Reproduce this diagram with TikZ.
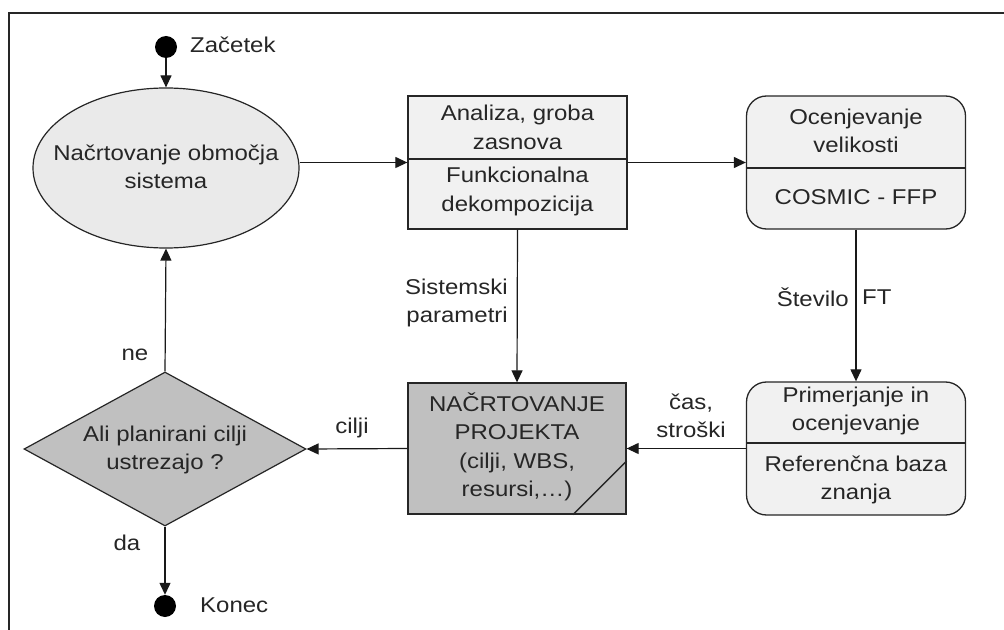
\documentclass[tikz,border=0pt]{standalone}
\usepackage{fontspec}
\setmainfont{Liberation Sans}[FakeStretch=1.12]
\usetikzlibrary{shapes.geometric,arrows.meta}
\definecolor{lightfill}{RGB}{241,241,241}
\definecolor{ellfill}{RGB}{234,234,234}
\definecolor{darkfill}{RGB}{192,192,192}
\begin{document}
\begin{tikzpicture}[x=1bp,y=-1bp,
  font=\fontsize{21.5}{28.5}\selectfont,
  box/.style={draw=black!85, line width=1.3bp, fill=lightfill, minimum width=219bp, minimum height=133bp, inner sep=0pt},
  rbox/.style={box, rounded corners=20bp},
  txt/.style={align=center, inner sep=0pt, text=black!85},
  arr/.style={-{Triangle[length=12bp,width=11bp]}, line width=1.2bp, draw=black!90},
  dot/.style={circle, fill=black, minimum size=22bp, inner sep=0pt},
  divider/.style={line width=1.3bp, draw=black!85}]
\useasboundingbox (0,0) rectangle (1004,630);
\fill[white] (0,0) rectangle (1004,630);
% frame
\draw[line width=2bp, black!85] (9,630) -- (9,13) -- (1004,13);

% start / end
\node[dot] (start) at (166,47) {};
\node[txt, anchor=west] (zac) at (190,45) {Začetek};
\node[dot] (end) at (165,606) {};
\node[txt, anchor=west] (kon) at (200,605) {Konec};

% ellipse
\node[ellipse, draw=black!85, line width=1.2bp, fill=ellfill, minimum width=266bp, minimum height=160bp, inner sep=0pt] (ell) at (166,168) {};
\node[txt] (ellt) at (166,167) {Načrtovanje območja\\sistema};

% box 1
\node[box] (b1) at (517.5,162.5) {};
\draw[divider] (b1.west |- 0,159) -- (b1.east |- 0,159);
\node[txt] (b1a) at (517.5,127.5) {Analiza, groba\\zasnova};
\node[txt] (b1b) at (517.5,191.5) {Funkcionalna\\dekompozicija};

% box 2
\node[rbox] (b2) at (856,162.5) {};
\draw[divider] (b2.west |- 0,168) -- (b2.east |- 0,168);
\node[txt] (b2a) at (856,131) {Ocenjevanje\\velikosti};
\node[txt] (b2b) at (856,197) {COSMIC - FFP};

% box 3
\node[box, fill=darkfill, minimum width=218bp, minimum height=131bp] (b3) at (517,448.5) {};
\draw[divider] (b3.east |- 0,461) -- (b3.south -| 573,0);
\node[txt] (b3t) at (517,447) {NAČRTOVANJE\\PROJEKTA\\(cilji, WBS,\\resursi,\ldots)};

% box 4
\node[rbox] (b4) at (856,448.5) {};
\draw[divider] (b4.west |- 0,443) -- (b4.east |- 0,443);
\node[txt] (b4a) at (856,411) {Primerjanje in\\ocenjevanje};
\node[txt] (b4b) at (856,480) {Referenčna baza\\znanja};

% diamond
\node[diamond, draw=black!85, line width=1.2bp, fill=darkfill, minimum width=282bp, minimum height=154bp, inner sep=0pt] (dia) at (165,449) {};
\node[txt] (diat) at (165,450) {Ali planirani cilji\\ustrezajo ?};

% connectors
\draw[arr] (start) -- (ell.north);
\draw[arr] (ell.east |- b1.west) -- (b1.west);
\draw[arr] (b1.east) -- (b2.west);
\draw[arr] (b1.south) -- (b3.north);
\draw[arr] (b2.south) -- (b4.north);
\draw[arr] (b4.west) -- (b3.east);
\draw[arr] (b3.west) -- (dia.east);
\draw[arr] (dia.north) -- (ell.south);
\draw[arr] (dia.south) -- (end.north);

% labels
\node[txt, anchor=east, align=right] (sp) at (508,303) {Sistemski\\parametri};
\node[txt, anchor=east] (stev) at (849,297) {Število};
\node[txt, anchor=west] (ft) at (862,297) {FT};
\node[txt] (cas) at (691,416) {čas,\\stroški};
\node[txt] (cil) at (352,428) {cilji};
\node[txt] (ne) at (135,355) {ne};
\node[txt] (da) at (127,543) {da};
\end{tikzpicture}
\end{document}
